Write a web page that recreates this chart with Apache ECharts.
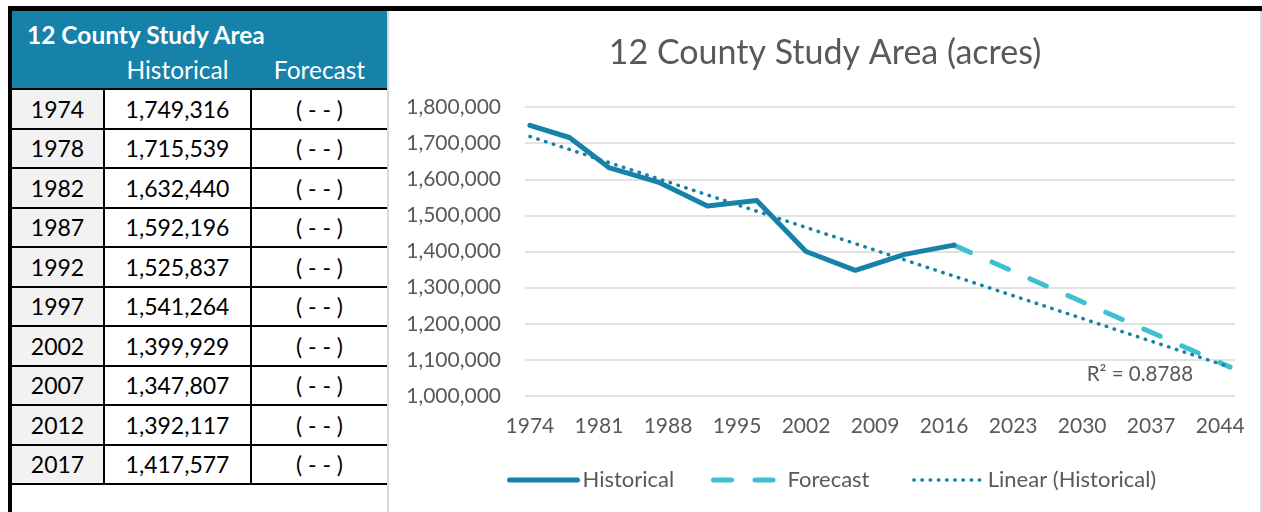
<!DOCTYPE html>
<html>
<head>
<meta charset="utf-8">
<script src="https://cdn.jsdelivr.net/npm/echarts@6/dist/echarts.min.js"></script>
<style>
  html, body { margin: 0; padding: 0; background: #fff; }
  body { width: 1262px; height: 512px; position: relative; overflow: hidden; font-family: Lato, "Open Sans", sans-serif; }
  .abs { position: absolute; }
  .cell { position: absolute; display: flex; align-items: center; justify-content: center; color: #000; font-size: 23px; }
</style>
</head>
<body>
<div id="frame"></div>
<div id="table"></div>
<div id="chart" class="abs" style="left:389px; top:11px; width:872px; height:501px;"></div>
<script>
// ---- data ----
const tableTitle = '12 County Study Area';
const columnHeaders = ['Historical', 'Forecast'];
const years = [1974, 1978, 1982, 1987, 1992, 1997, 2002, 2007, 2012, 2017];
const historical = [1749316, 1715539, 1632440, 1592196, 1525837, 1541264, 1399929, 1347807, 1392117, 1417577];
const forecastCells = ['( - - )', '( - - )', '( - - )', '( - - )', '( - - )', '( - - )', '( - - )', '( - - )', '( - - )', '( - - )'];
const forecastYears = [2017, 2045];
const forecastValues = [1417577, 1080000];
const trendYears = [1974, 2045];
const trendValues = [1718500, 1079800];
const xTickLabels = [1974, 1981, 1988, 1995, 2002, 2009, 2016, 2023, 2030, 2037, 2044];
const chartTitle = '12 County Study Area (acres)';
const rSquaredText = 'R\u00B2 = 0.8788';
const seriesNames = ['Historical', 'Forecast', 'Linear (Historical)'];

// ---- frame & table (HTML) ----
const BLUE = '#1681A9';
const CYAN = '#3FC0D2';
const frame = document.getElementById('frame');
function box(parent, l, t, w, h, bg) {
  const d = document.createElement('div');
  d.className = 'abs';
  d.style.cssText += `left:${l}px;top:${t}px;width:${w}px;height:${h}px;background:${bg};`;
  parent.appendChild(d);
  return d;
}
box(frame, 8, 6, 1254, 5, '#000');          // top border
box(frame, 8, 6, 4, 506, '#000');           // left border
box(frame, 387, 11, 2, 501, '#d9d9d9');     // chart left border
box(frame, 1260, 11, 2, 501, '#d9d9d9');    // chart right border

const table = document.getElementById('table');
box(table, 12, 11, 375, 77, BLUE);
function textCell(parent, l, t, w, h, txt, style) {
  const d = document.createElement('div');
  d.className = 'cell';
  d.style.cssText += `left:${l}px;top:${t}px;width:${w}px;height:${h}px;` + (style || '');
  d.textContent = txt;
  parent.appendChild(d);
  return d;
}
textCell(table, 27, 19, 330, 30, tableTitle, 'justify-content:flex-start;color:#fff;font-weight:bold;font-size:24.5px;');
textCell(table, 105, 54, 145, 30, columnHeaders[0], 'color:#fff;font-size:24.5px;');
textCell(table, 252, 54, 135, 30, columnHeaders[1], 'color:#fff;font-size:24.5px;');

const rowTop = 88, rowH = 39.5;
years.forEach((y, i) => {
  const top = rowTop + i * rowH;
  box(table, 12, top + 2, 91, rowH - 2, '#f2f2f2');
  textCell(table, 12, top + 2, 91, rowH - 2, String(y));
  textCell(table, 105, top + 2, 145, rowH - 2, historical[i].toLocaleString('en-US'));
  textCell(table, 252, top + 2, 135, rowH - 2, forecastCells[i]);
});
for (let i = 0; i <= years.length; i++) {
  box(table, 12, rowTop + i * rowH, 375, 2, '#000');
}
box(table, 103, rowTop, 2, years.length * rowH + 2, '#000');
box(table, 250, rowTop, 2, years.length * rowH + 2, '#000');

// ---- chart ----
const GRAY = '#595959';
const FONT = 'Lato, "Open Sans", sans-serif';
const chart = echarts.init(document.getElementById('chart'));
const zip = (a, b) => a.map((v, i) => [v, b[i]]);
const styles = [
  { color: BLUE, width: 5, type: 'solid', cap: 'round', join: 'round' },
  { color: CYAN, width: 5, type: [18, 23.5], cap: 'round', join: 'round' },
  { color: BLUE, width: 3.5, type: [0.5, 7.7], cap: 'round', join: 'round' }
];
const legendBase = (idx, left, w, padL) => ({
  data: [seriesNames[idx]], left: left, top: 458, itemWidth: w, itemHeight: 2, padding: 0,
  itemStyle: { opacity: 0 },
  lineStyle: Object.assign({}, styles[idx]),
  textStyle: { color: GRAY, fontSize: 22, fontFamily: FONT, padding: [0, 0, 0, padL] }
});
const option = {
  animation: false,
  textStyle: { fontFamily: FONT },
  title: {
    text: chartTitle, left: 'center', top: 25, padding: 0,
    textStyle: { color: GRAY, fontSize: 34, fontWeight: 'normal', fontFamily: FONT }
  },
  grid: { left: 136, right: 26, top: 96, bottom: 116, containLabel: false },
  xAxis: {
    type: 'value', min: 1973.5, max: 2045.5,
    axisLine: { show: false }, axisTick: { show: false }, splitLine: { show: false },
    axisLabel: { customValues: xTickLabels, color: GRAY, fontSize: 21, margin: 20, fontFamily: FONT,
      formatter: v => String(v) }
  },
  yAxis: {
    type: 'value', min: 1000000, max: 1800000, interval: 100000,
    axisLine: { show: false }, axisTick: { show: false },
    splitLine: { lineStyle: { color: '#d9d9d9', width: 1.5 } },
    axisLabel: { color: GRAY, fontSize: 21, margin: 24, fontFamily: FONT,
      formatter: v => v.toLocaleString('en-US') }
  },
  legend: [
    legendBase(0, 118, 68, 0),
    legendBase(1, 322, 64, 5),
    legendBase(2, 523, 66, 3)
  ],
  series: [
    {
      name: seriesNames[1], type: 'line', data: zip(forecastYears, forecastValues),
      symbol: 'none', z: 2, lineStyle: styles[1], itemStyle: { color: CYAN }
    },
    {
      name: seriesNames[0], type: 'line', data: zip(years, historical),
      symbol: 'none', z: 3, lineStyle: styles[0], itemStyle: { color: BLUE }
    },
    {
      name: seriesNames[2], type: 'line', data: zip(trendYears, trendValues),
      symbol: 'none', z: 4, lineStyle: styles[2], itemStyle: { color: BLUE }
    }
  ]
};
chart.setOption(option);
const endPt = chart.convertToPixel({ gridIndex: 0 }, [trendYears[trendYears.length - 1], trendValues[trendValues.length - 1]]);
chart.setOption({
  graphic: [{
    type: 'text', x: endPt[0] - 37, y: endPt[1] + 7,
    style: { text: rSquaredText, fill: GRAY, font: '20.5px ' + FONT, textAlign: 'right', textVerticalAlign: 'middle' }
  }]
});
</script>
</body>
</html>
